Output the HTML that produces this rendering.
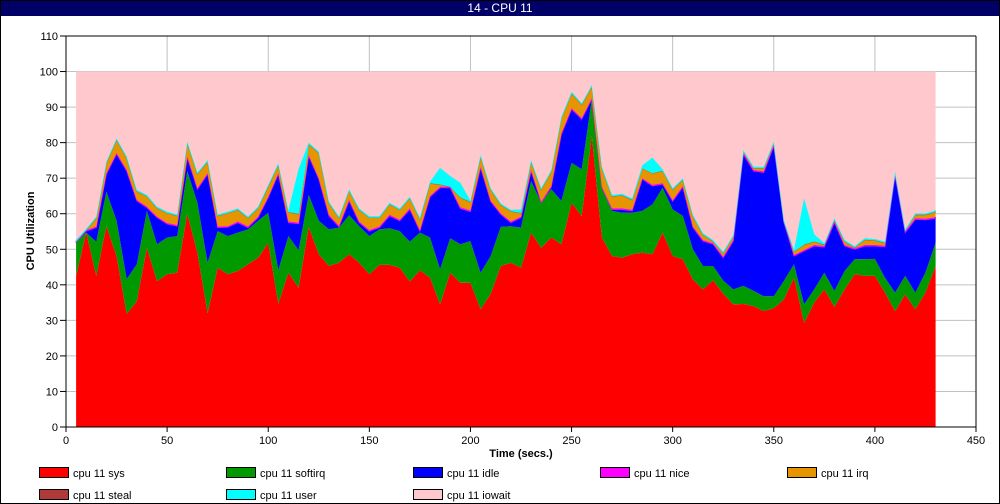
<!DOCTYPE html>
<html><head><meta charset="utf-8"><style>
body{margin:0;background:#fff;font-family:"Liberation Sans",sans-serif;}
#wrap{position:relative;width:998px;height:502px;border:1px solid #000;overflow:hidden}
#title{position:absolute;left:0;top:0;width:998px;height:15px;background:#000066;color:#fff;font-size:12px;text-align:center;line-height:15px}
</style></head><body>
<div id="wrap">
<div id="title">14 - CPU 11</div>
<svg id="chart" width="998" height="502" style="position:absolute;left:0;top:0"></svg>
</div>
<script>
const times=[5,10,15,20,25,30,35,40,45,50,55,60,65,70,75,80,85,90,95,100,105,110,115,120,125,130,135,140,145,150,155,160,165,170,175,180,185,190,195,200,205,210,215,220,225,230,235,240,245,250,255,260,265,270,275,280,285,290,295,300,305,310,315,320,325,330,335,340,345,350,355,360,365,370,375,380,385,390,395,400,405,410,415,420,425,430];
const sysVals=[42.5,54.7,42.5,56.5,48,31.8,35.4,50.4,41,43,43.4,60,49,32,44.8,43,43.9,45.8,47.6,51.8,34.7,43.4,39.2,56.3,48.6,45.3,46.2,48.6,46.2,43,45.6,45.6,44.8,40.9,44.1,42,34.5,43.4,40.6,40.6,33.1,37.5,45.3,46.2,44.8,54.7,50.4,53.3,51.4,63.1,59.4,81.9,53.3,48.1,47.6,48.6,49,48.6,54.7,48.1,47.2,41.5,38.7,41.3,37.5,34.5,34.6,34,32.6,33.4,35.9,42,29.3,35,38.7,33.8,38.7,43,42.5,42.5,37.8,32.6,37.3,33.1,37.8,45.3];
const softirqVals=[9.4,0,9.6,9.7,10,9.8,10.4,10.4,10.4,10.3,10.3,12,14.1,14.2,10.3,10.7,10.8,9.8,10.4,8.5,9.4,10.3,10.5,9,9.4,10.3,9.9,11,10.3,10.7,10,10.3,10.3,11.2,10.6,11.3,9.9,9.7,10.8,11.7,10.3,10.6,11,10.3,11.3,14.5,12.7,13.6,12.2,11.2,13.1,10.3,14,12.7,12.7,11.7,11.8,14,12.6,13.1,12.2,8.5,6.6,4,3.7,4.2,5.1,4.3,4.2,3.4,5.2,3.8,5.2,3.7,4.7,4.5,5.2,4.2,4.7,4.8,4.2,5.2,5.2,4.7,5.6,6.5];
const idleVals=[0,0.4,4,4.9,18.8,30.4,17.8,0.9,7.5,3.8,2.8,3.8,3.8,24.9,1,2.5,2.8,0.5,0.9,4.2,27,3.8,7.5,10.9,11.7,3.8,0.2,4,1,1.4,0.5,3.5,2.9,9.1,0.4,11.4,22.9,14.2,10.1,8.3,29.5,15.3,3.5,1,2.8,2.8,0,0.6,18.7,15.1,14.1,0,0,0.4,0.9,0.5,8.9,5.2,1,2.3,8.1,6.1,7,6.1,6.4,13.6,37,33.7,34.8,42.2,16.4,2.3,15,12.2,7.2,19.2,7,2.8,3.7,3.6,8.7,32.8,12.2,20.6,14.9,6.9];
const niceVals=new Array(times.length).fill(0.3);
const irqVals=[0,0,2.4,2.9,3.7,3.4,2.4,2.9,2.4,2.8,2.6,3.8,4,3.3,3,3.7,3.3,2.4,2.4,2.9,2.4,2.7,2.4,3.1,7.1,3.3,2.2,2.6,3.3,3.5,2.5,3,2.8,2.9,3.1,3.6,0.6,0,2.8,2.4,2.9,3.1,2.4,2.9,1,2.4,3.4,4.1,4.3,4.2,3.8,3.3,5.2,3.4,3.7,2.8,2.8,3.3,3.5,3,1.8,2.9,1.5,0.5,1,1,0.5,0.5,0.9,0.6,0,1,1.5,1,0.4,0.5,1,0.2,1.5,1.3,0.8,0.5,0.2,1,1.1,1.5];
const stealVals=new Array(times.length).fill(0.1);
const userVals=[0.3,0.3,0.3,0.3,0.3,0.3,0.3,0.3,0.3,0.3,0.3,0.3,0.3,0.3,0.3,0.3,0.3,0.3,0.3,0.3,0.3,0.3,12.6,0.3,0.3,0.3,0.3,0.3,0.3,0.3,0.3,0.3,0.3,0.3,0.3,0.3,4.6,2.9,4,0.3,0.3,0.3,0.3,0.3,0.9,0.3,0.3,0.3,0.3,0.3,0.3,0.3,0.3,0.3,0.3,0.3,0.7,4.3,0.3,0.3,0.3,0.3,0.3,0.3,0.3,0.3,0.3,0.3,0.3,0.3,0.3,0.3,12.9,1.9,0.3,0.3,0.3,0.3,0.3,0.3,0.3,0.3,0.3,0.3,0.3,0.3];
const xTicks=[0,50,100,150,200,250,300,350,400,450];
const yTicks=[0,10,20,30,40,50,60,70,80,90,100,110];

const NS="http://www.w3.org/2000/svg";
const svg=document.getElementById('chart');
const X0=65,X1=975,Y0=426,Y1=35;
const xs=t=>X0+(t/450)*(X1-X0);
const ys=v=>Y0-(v/110)*(Y0-Y1);
function mk(tag,attrs,parent){const e=document.createElementNS(NS,tag);for(const k in attrs)e.setAttribute(k,attrs[k]);(parent||svg).appendChild(e);return e;}

// grid
xTicks.forEach(t=>{if(t>0){const l=mk('line',{x1:xs(t),x2:xs(t),y1:Y1,y2:Y0,stroke:'#c0c0c0'});

}});
yTicks.forEach(v=>{if(v>0){const l=mk('line',{x1:X0,x2:X1,y1:ys(v),y2:ys(v),stroke:'#c0c0c0'});

}});

const iowaitVals=times.map((t,i)=>Math.max(0,100-sysVals[i]-softirqVals[i]-idleVals[i]-niceVals[i]-irqVals[i]-stealVals[i]-userVals[i]));
const series=[
 ['sys',sysVals,'#ff0000'],['softirq',softirqVals,'#009900'],['idle',idleVals,'#0000ff'],['nice',niceVals,'#ff00ff'],
 ['irq',irqVals,'#e69500'],['steal',stealVals,'#b03a3a'],['user',userVals,'#00ffff'],['iowait',iowaitVals,'#ffc8cc']];
let base=times.map(()=>0);
series.forEach(([name,vals,col])=>{
  const top=base.map((b,i)=>b+vals[i]);
  let pts=times.map((t,i)=>xs(t).toFixed(1)+','+ys(top[i]).toFixed(1));
  for(let i=times.length-1;i>=0;i--)pts.push(xs(times[i]).toFixed(1)+','+ys(base[i]).toFixed(1));
  const p=mk('polygon',{points:pts.join(' '),fill:col,stroke:(name==='nice'||name==='user'||name==='steal')?col:'none','stroke-width':(name==='iowait'?0:0.8)});
  
  
  base=top;
});

// axes
const ax=mk('line',{x1:X0,x2:X1,y1:Y0,y2:Y0,stroke:'#000'});


const ay=mk('line',{x1:X0,x2:X0,y1:Y1,y2:Y0,stroke:'#000'});


const at=mk('line',{x1:X0,x2:X1,y1:Y1,y2:Y1,stroke:'#000'});


const ar=mk('line',{x1:X1,x2:X1,y1:Y1,y2:Y0,stroke:'#000'});



xTicks.forEach(t=>{
  mk('line',{x1:xs(t),x2:xs(t),y1:Y0,y2:Y0+5,stroke:'#000'});
  const tx=mk('text',{x:xs(t),y:Y0+17,'text-anchor':'middle','font-size':11,'font-family':'Liberation Sans, sans-serif'});
  tx.textContent=t;
  
  
});
yTicks.forEach(v=>{
  mk('line',{x1:X0-6,x2:X0,y1:ys(v),y2:ys(v),stroke:'#000'});
  const tx=mk('text',{x:X0-8,y:ys(v)+4,'text-anchor':'end','font-size':11,'font-family':'Liberation Sans, sans-serif'});
  tx.textContent=v;
  
  
});
const xt=mk('text',{x:520,y:456,'text-anchor':'middle','font-size':11,'font-weight':'bold','font-family':'Liberation Sans, sans-serif'});
xt.textContent='Time (secs.)';


const yt=mk('text',{x:0,y:0,'text-anchor':'middle','font-size':11,'font-weight':'bold','font-family':'Liberation Sans, sans-serif',transform:'translate(33,230) rotate(-90)'});
yt.textContent='CPU Utilization';



// legend
const legendOrder=['sys','softirq','idle','nice','irq','steal','user','iowait'];
const legendCols={sys:'#ff0000',softirq:'#009900',idle:'#0000ff',nice:'#ff00ff',irq:'#e69500',steal:'#b03a3a',user:'#00ffff',iowait:'#ffc8cc'};
legendOrder.forEach((n,i)=>{
  const cx=38+(i%5)*187, cy=i<5?466:488;
  const g=mk('g',{});
  
  
  mk('rect',{x:cx+0.5,y:cy+0.5,width:29,height:10,fill:legendCols[n],stroke:'#000'},g);
  const t=mk('text',{x:cx+34,y:cy+10,'font-size':11,'font-family':'Liberation Sans, sans-serif'},g);
  t.textContent='cpu 11 '+n;
});
</script>
</body></html>
